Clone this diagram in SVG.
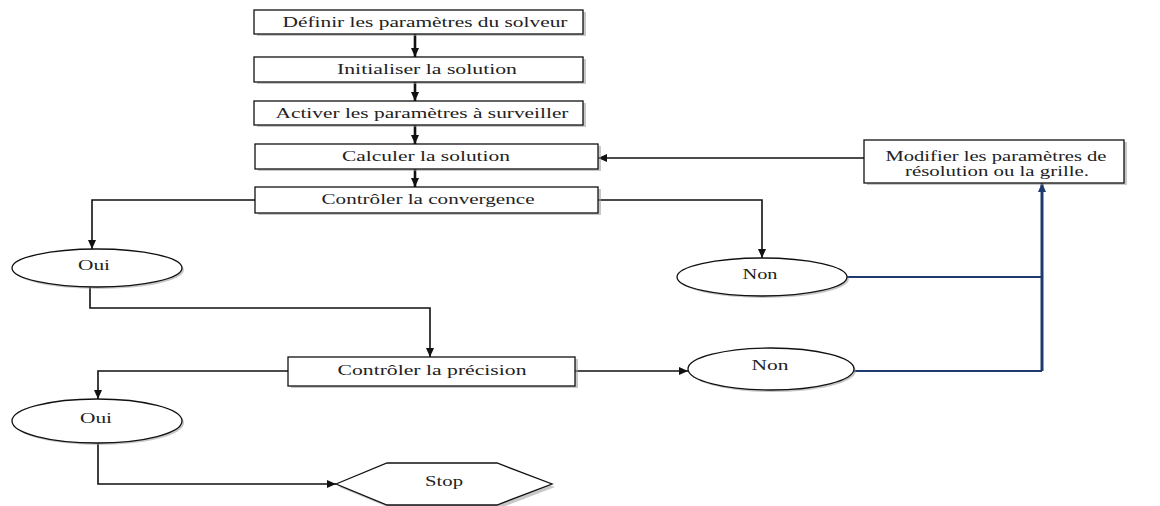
<svg xmlns="http://www.w3.org/2000/svg" width="1160" height="506" viewBox="0 0 1160 506">
<style>
.box{fill:#fff;stroke:#111;stroke-width:1.3}
.sh{fill:#9a9a9a;opacity:.55}
.t{font-family:"Liberation Serif","Times New Roman",serif;font-size:15px;fill:#222;text-anchor:middle;dominant-baseline:central}
.c{fill:none;stroke:#111;stroke-width:1.6}
.v{fill:none;stroke:#111;stroke-width:2.6}
.b{fill:none;stroke:#1f3a70;stroke-width:2}
.bv{fill:none;stroke:#1f3a70;stroke-width:3}
</style>
<defs>
<marker id="ah" markerUnits="userSpaceOnUse" markerWidth="10" markerHeight="8" refX="9" refY="4" orient="auto"><path d="M0,0 L9,4 L0,8 z" fill="#111"/></marker>
<marker id="ahb" markerUnits="userSpaceOnUse" markerWidth="10" markerHeight="8" refX="9" refY="4" orient="auto"><path d="M0,0 L9,4 L0,8 z" fill="#1f3a70"/></marker>
</defs>
<rect width="1160" height="506" fill="#fff"/>

<g id="connectors">
<path class="v" d="M415,34 V57" marker-end="url(#ah)"/>
<path class="v" d="M415,82 V101" marker-end="url(#ah)"/>
<path class="v" d="M415,125 V144" marker-end="url(#ah)"/>
<path class="v" d="M415,169 V187" marker-end="url(#ah)"/>
<path class="c" d="M864,158 H598" marker-end="url(#ah)"/>
<path class="c" d="M255,200 H92 V249" marker-end="url(#ah)"/>
<path class="c" d="M598,200 H762 V258" marker-end="url(#ah)"/>
<path class="c" d="M90,287 V308 H430 V357" marker-end="url(#ah)"/>
<path class="c" d="M288,371 H98 V399" marker-end="url(#ah)"/>
<path class="c" d="M575,371 H688" marker-end="url(#ah)"/>
<path class="c" d="M98,443 V484 H336" marker-end="url(#ah)"/>
<path class="b" d="M847,277 H1042"/>
<path class="b" d="M854,371 H1042"/>
<path class="bv" d="M1042,371 V183" marker-end="url(#ahb)"/>
</g>

<g id="n1"><rect class="sh" x="257" y="12" width="329" height="24"/><rect class="box" x="254" y="10" width="329" height="24"/><text class="t" x="425" y="22" textLength="285" lengthAdjust="spacingAndGlyphs">Définir les paramètres du solveur</text></g>
<g id="n2"><rect class="sh" x="257" y="59" width="329" height="25"/><rect class="box" x="254" y="57" width="329" height="25"/><text class="t" x="427" y="69" textLength="180" lengthAdjust="spacingAndGlyphs">Initialiser la solution</text></g>
<g id="n3"><rect class="sh" x="257" y="103" width="329" height="24"/><rect class="box" x="254" y="101" width="329" height="24"/><text class="t" x="422" y="113" textLength="293" lengthAdjust="spacingAndGlyphs">Activer les paramètres  à surveiller</text></g>
<g id="n4"><rect class="sh" x="258" y="146" width="343" height="25"/><rect class="box" x="255" y="144" width="343" height="25"/><text class="t" x="426" y="156" textLength="168" lengthAdjust="spacingAndGlyphs">Calculer la solution</text></g>
<g id="n5"><rect class="sh" x="258" y="189" width="343" height="26"/><rect class="box" x="255" y="187" width="343" height="26"/><text class="t" x="428" y="199" textLength="213" lengthAdjust="spacingAndGlyphs">Contrôler la convergence</text></g>
<g id="n6"><rect class="sh" x="867" y="142" width="260" height="43"/><rect class="box" x="864" y="140" width="260" height="43"/><text class="t" x="996" y="156" textLength="221" lengthAdjust="spacingAndGlyphs">Modifier les paramètres de</text><text class="t" x="997" y="171" textLength="184" lengthAdjust="spacingAndGlyphs">résolution ou la grille.</text></g>
<g id="n7"><ellipse class="sh" cx="99" cy="270" rx="85" ry="19"/><ellipse class="box" cx="97" cy="268" rx="85" ry="19"/><text class="t" x="94" y="265" textLength="32" lengthAdjust="spacingAndGlyphs">Oui</text></g>
<g id="n8"><ellipse class="sh" cx="764" cy="279" rx="85" ry="19"/><ellipse class="box" cx="762" cy="277" rx="85" ry="19"/><text class="t" x="760" y="274" textLength="35" lengthAdjust="spacingAndGlyphs">Non</text></g>
<g id="n9"><rect class="sh" x="291" y="359" width="287" height="29"/><rect class="box" x="288" y="357" width="287" height="29"/><text class="t" x="432" y="370" textLength="189" lengthAdjust="spacingAndGlyphs">Contrôler la précision</text></g>
<g id="n10"><ellipse class="sh" cx="773" cy="371" rx="83" ry="21"/><ellipse class="box" cx="771" cy="369" rx="83" ry="21"/><text class="t" x="770" y="365" textLength="37" lengthAdjust="spacingAndGlyphs">Non</text></g>
<g id="n11"><ellipse class="sh" cx="99" cy="423" rx="85" ry="22"/><ellipse class="box" cx="97" cy="421" rx="85" ry="22"/><text class="t" x="96" y="418" textLength="32" lengthAdjust="spacingAndGlyphs">Oui</text></g>
<g id="n12"><polygon class="sh" points="339,487 390,466 500,466 555,487 500,508 390,508"/><polygon class="box" points="336,484 387,463 497,463 552,484 497,505 387,505"/><text class="t" x="444" y="481" textLength="38" lengthAdjust="spacingAndGlyphs">Stop</text></g>
</svg>
